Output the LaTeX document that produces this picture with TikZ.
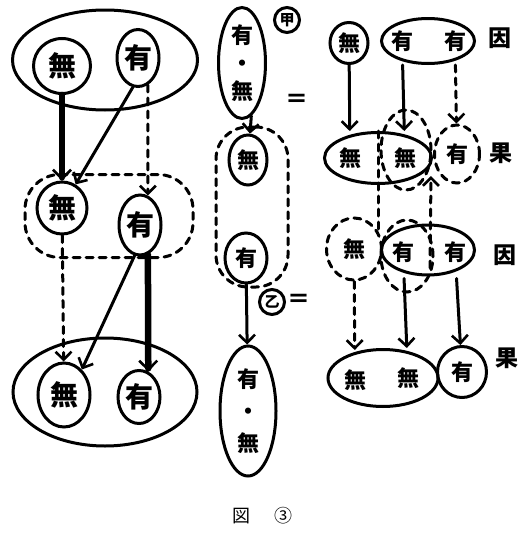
\documentclass[tikz,border=0pt]{standalone}
\usepackage{fontspec}
\newfontfamily\jp{Noto Sans CJK JP}
\usetikzlibrary{shapes.geometric,arrows.meta}

\begin{document}
\begin{tikzpicture}[x=1pt,y=-1pt,line width=3pt,line cap=round,
  ch/.style={ellipse,draw,inner sep=0pt,font=\jp\bfseries\fontsize{28}{28}\selectfont},
  sch/.style={ellipse,draw,inner sep=0pt,font=\jp\bfseries\fontsize{22}{22}\selectfont},
  txt/.style={inner sep=0pt,font=\jp\bfseries\fontsize{22}{22}\selectfont},
  grp/.style={ellipse,draw,inner sep=0pt},
  dsh/.style={dash pattern=on 7pt off 6pt},
  lab/.style={font=\jp\bfseries\fontsize{23}{23}\selectfont},
  tag/.style={circle,draw,inner sep=1pt,minimum size=25,font=\jp\bfseries\fontsize{15}{15}\selectfont},
  arr/.style={-{Straight Barb[length=8pt,width=16pt,line width=2.6pt]}},
  thickarr/.style={line width=6.5pt,-{Straight Barb[length=9pt,width=18pt,line width=2.6pt]}}]

\useasboundingbox (0,0) rectangle (532,533);

% left: three layers
\node[grp, minimum width=185, minimum height=100] (Ltop) at (105,60) {};
\node[ch, minimum width=57, minimum height=55] (Lmu1) at (62,66) {無};
\node[ch, minimum width=42, minimum height=57] (Lyu1) at (138,58) {有};

\node[draw, dsh, rectangle, rounded corners=35, minimum width=168, minimum height=83] (Lmid) at (109,216) {};
\node[ch, minimum width=50, minimum height=52] (Lmu2) at (62,208) {無};
\node[ch, minimum width=42, minimum height=60] (Lyu2) at (140,225) {有};

\node[grp, minimum width=184, minimum height=108] (Lbot) at (105,392) {};
\node[ch, minimum width=52, minimum height=64] (Lmu3) at (64,395) {無};
\node[ch, minimum width=42, minimum height=53] (Lyu3) at (139,397) {有};

\draw[thickarr] (Lmu1) -- (Lmu2);
\draw[arr] (Lyu1.-100) -- (Lmu2.60);
\draw[arr, dsh] (Lyu1.-70) -- (Lyu2.75);
\draw[arr, dsh] (Lmu2) -- (Lmu3);
\draw[arr] (Lyu2.-100) -- (Lmu3.55);
\draw[thickarr] (Lyu2.-75) -- (Lyu3.70);

% middle: chain with 甲 and 乙
\node[grp, minimum width=47, minimum height=111, align=center, font=\jp\bfseries\fontsize{22}{28}\selectfont] (Mtop) at (242,63) {有\\・\\無};
\node[tag] (Mko) at (287,20) {甲};
\node[lab] (Meq1) at (297,101) {＝};
\node[sch, minimum width=38, minimum height=50] (Mmu) at (248,160) {無};
\node[draw, dsh, rectangle, rounded corners=32, minimum width=72, minimum height=160] (Mdash) at (252,207) {};
\node[sch, minimum width=42, minimum height=50] (Myu) at (246,258) {有};
\node[tag] (Motsu) at (272,302) {乙};
\node[lab] (Meq2) at (299,301) {＝};
\node[grp, minimum width=56, minimum height=130, align=center, font=\jp\bfseries\fontsize{22}{32}\selectfont] (Mbot) at (248,411) {有\\・\\無};

\draw[arr] (Mtop.-80) -- (Mmu);
\draw[arr] (Myu) -- (Mbot);

% right: 因 / 果 rows
\node[sch, minimum width=38, minimum height=41] (Rmu1) at (349,43) {無};
\node[grp, minimum width=93, minimum height=45] (Rg1) at (428,41) {};
\node[txt, minimum height=45] (Ryu1) at (402,41) {有};
\node[txt, minimum height=45] (Ryu2) at (455,41) {有};
\node[lab] (Rin1) at (500,38) {因};

\node[grp, minimum width=107, minimum height=51] (Rg2) at (378,158) {};
\node[txt, minimum height=51] (Rmu2) at (350,158) {無};
\node[txt, minimum height=51] (Rmu3) at (405,158) {無};
\node[grp, dsh, minimum width=50, minimum height=80] (Rd1) at (406,150) {};
\node[sch, dsh, minimum width=45, minimum height=58] (Ryu3) at (457,154) {有};
\node[lab] (Rka1) at (501,153) {果};

\node[sch, dsh, minimum width=55, minimum height=62] (Rmu4) at (354,249) {無};
\node[grp, minimum width=93, minimum height=50] (Rg3) at (428,250) {};
\node[txt, minimum height=50] (Ryu4) at (403,252) {有};
\node[txt, minimum height=50] (Ryu5) at (455,252) {有};
\node[grp, dsh, minimum width=52, minimum height=72] (Rd2) at (407,256) {};
\node[lab] (Rin2) at (505,255) {因};

\node[grp, minimum width=110, minimum height=57] (Rg4) at (383,378) {};
\node[txt, minimum height=57] (Rmu5) at (355,380) {無};
\node[txt, minimum height=57] (Rmu6) at (408,378) {無};
\node[sch, minimum width=49, minimum height=51] (Ryu6) at (462,372) {有};
\node[lab] (Rka2) at (507,358) {果};

\coordinate (Rj) at (378,232);
\coordinate (Rk) at (430,268);
\coordinate (Rk2) at (431,176);

\draw[arr] (Rmu1) -- (Rmu2);
\draw[arr] (Ryu1) -- (Rmu3);
\draw[arr, dsh] (Ryu2) -- (Ryu3);
\draw[dsh] (Rg2.north) -- (Rg2.south) -- (Rj);
\draw[arr, dsh] (Rk) -- (Rk2);
\draw[arr, dsh] (Rmu4) -- (Rmu5);
\draw[arr] (Ryu4) -- (Rmu6);
\draw[arr] (Ryu5) -- (Ryu6);

% caption
\node[font=\jp\fontsize{18}{18}\selectfont] (fig) at (241,516) {図};
\node[font=\jp\fontsize{18}{18}\selectfont] (num) at (283,516) {③};

\end{tikzpicture}
\end{document}
